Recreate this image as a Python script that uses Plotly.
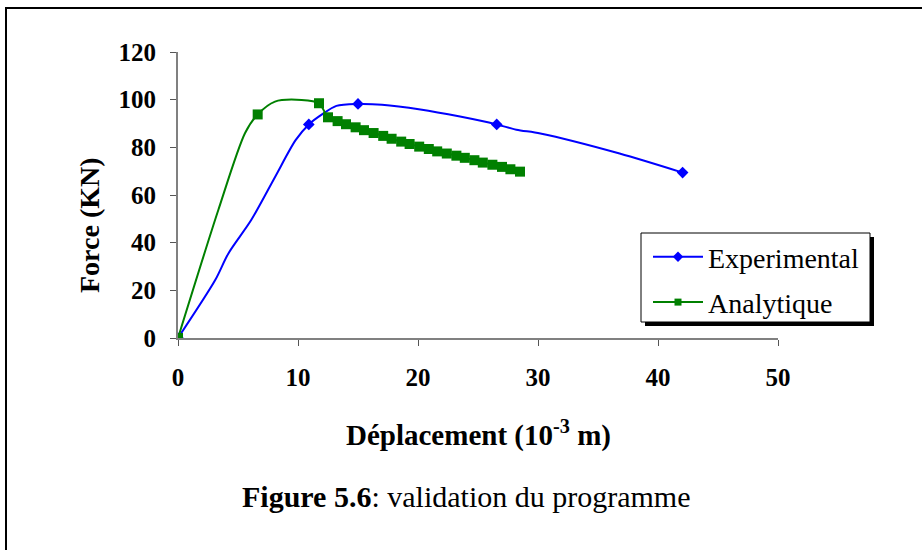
import plotly.graph_objects as go

# Experimental load-displacement curve (displacement in 1e-3 m, force in kN)
exp_x = [0.0, 3.1, 4.2, 6.1, 8.1, 9.8, 10.9, 12.0, 13.2, 15.0, 17.0, 20.2, 23.5, 26.56, 28.2, 30.2, 36.8, 42.05]
exp_y = [0.0, 24.3, 35.5, 49.5, 67.7, 83.0, 89.6, 93.8, 97.4, 98.2, 97.9, 95.9, 92.9, 89.6, 87.4, 85.8, 77.4, 69.4]
exp_marked = [True, False, False, False, False, False, True, False, False, True, False, False, False, True, False, False, False, True]

# Analytical model curve
ana_x = [0.0, 3.36, 5.58, 6.64, 8.08, 10.3, 11.75,
         12.5, 13.3, 14.0, 14.8, 15.5, 16.3, 17.1, 17.8, 18.6, 19.3, 20.1,
         20.9, 21.6, 22.4, 23.2, 23.9, 24.7, 25.4, 26.2, 27.0, 27.7, 28.5]
ana_y = [0.0, 53.7, 85.9, 93.8, 99.2, 99.9, 98.5,
         92.6, 91.0, 89.7, 88.4, 87.2, 86.0, 84.8, 83.6, 82.4, 81.4, 80.3,
         79.3, 78.3, 77.4, 76.5, 75.6, 74.6, 73.6, 72.7, 71.8, 70.8, 69.8]
ana_marked = [True, False, False, True, False, False, True] + [True] * 22

x_ticks = [0, 10, 20, 30, 40, 50]
y_ticks = [0, 20, 40, 60, 80, 100, 120]

series_names = ["Experimental", "Analytique"]
BLUE = "#0000FF"
GREEN = "#008000"
FONT = "Liberation Serif"

fig = go.Figure()

# smooth curves
fig.add_trace(go.Scatter(x=exp_x, y=exp_y, mode="lines",
                         line=dict(color=BLUE, width=2, shape="spline", smoothing=0.8),
                         showlegend=False, hoverinfo="skip"))
fig.add_trace(go.Scatter(x=ana_x, y=ana_y, mode="lines",
                         line=dict(color=GREEN, width=2, shape="spline", smoothing=0.8),
                         showlegend=False, hoverinfo="skip"))

# markers on the measured / computed points
fig.add_trace(go.Scatter(x=[x for x, m in zip(exp_x, exp_marked) if m],
                         y=[y for y, m in zip(exp_y, exp_marked) if m],
                         mode="markers", marker=dict(symbol="diamond", size=9, color=BLUE),
                         showlegend=False))
fig.add_trace(go.Scatter(x=[x for x, m in zip(ana_x, ana_marked) if m],
                         y=[y for y, m in zip(ana_y, ana_marked) if m],
                         mode="markers", marker=dict(symbol="square", size=10, color=GREEN),
                         showlegend=False))

# legend entries
fig.add_trace(go.Scatter(x=[None], y=[None], mode="lines+markers", name=series_names[0],
                         legendgroup="exp",
                         line=dict(color=BLUE, width=2),
                         marker=dict(symbol="diamond", size=8, color=BLUE)))
fig.add_trace(go.Scatter(x=[None], y=[None], mode="lines+markers", name=series_names[1],
                         legendgroup="ana",
                         line=dict(color=GREEN, width=2),
                         marker=dict(symbol="square", size=7, color=GREEN)))

L, R, T, B = 178, 144, 52, 212
W, H = 922, 550
pw, ph = W - L - R, H - T - B


def px(xp):
    return (xp - L) / pw


def py(yp):
    return (H - B - yp) / ph


shapes = [
    # outer frame
    dict(type="rect", xref="paper", yref="paper",
         x0=px(6), x1=px(940), y0=py(8), y1=py(600),
         line=dict(color="black", width=2), fillcolor="rgba(0,0,0,0)", layer="below"),
    # legend shadow
    dict(type="rect", xref="paper", yref="paper",
         x0=px(645), x1=px(874), y0=py(237), y1=py(326),
         line=dict(width=0), fillcolor="black", layer="above"),
    # legend box
    dict(type="rect", xref="paper", yref="paper",
         x0=px(641), x1=px(870), y0=py(233), y1=py(322),
         line=dict(color="black", width=1), fillcolor="white", layer="above"),
]

annotations = [
    dict(text="<b>Force (KN)</b>", xref="paper", yref="paper", x=px(89), y=py(225),
         textangle=-90, showarrow=False, font=dict(family=FONT, size=28, color="black"),
         xanchor="center", yanchor="middle"),
    dict(text="<b>Déplacement (10<sup>-3</sup> m)</b>", xref="paper", yref="paper",
         x=px(478), y=py(433), showarrow=False,
         font=dict(family=FONT, size=29, color="black"), xanchor="center", yanchor="middle"),
    dict(text="<b>Figure 5.6</b>: validation du programme", xref="paper", yref="paper",
         x=px(466), y=py(497), showarrow=False,
         font=dict(family=FONT, size=30, color="black"), xanchor="center", yanchor="middle"),
]

fig.update_layout(
    width=W, height=H,
    margin=dict(l=L, r=R, t=T, b=B),
    paper_bgcolor="white", plot_bgcolor="white",
    font=dict(family=FONT, color="black"),
    shapes=shapes, annotations=annotations,
    legend=dict(x=px(648), y=py(232), xanchor="left", yanchor="top",
                bgcolor="rgba(0,0,0,0)", borderwidth=0,
                font=dict(family=FONT, size=28, color="black"),
                itemwidth=50, tracegroupgap=6),
    xaxis=dict(range=[0, 50], tickvals=x_ticks, ticks="outside", ticklen=6, tickwidth=1,
               tickcolor="#555555", showline=True, linecolor="#808080", linewidth=2,
               showgrid=False, zeroline=False, fixedrange=True, ticklabelstandoff=10,
               tickfont=dict(family=FONT, size=25, color="black", weight="bold")),
    yaxis=dict(range=[0, 120], tickvals=y_ticks, ticks="outside", ticklen=6, tickwidth=1,
               tickcolor="#555555", showline=True, linecolor="#808080", linewidth=2,
               showgrid=False, zeroline=False, fixedrange=True, ticklabelstandoff=9,
               tickfont=dict(family=FONT, size=25, color="black", weight="bold")),
)

fig.write_html("out.html")
